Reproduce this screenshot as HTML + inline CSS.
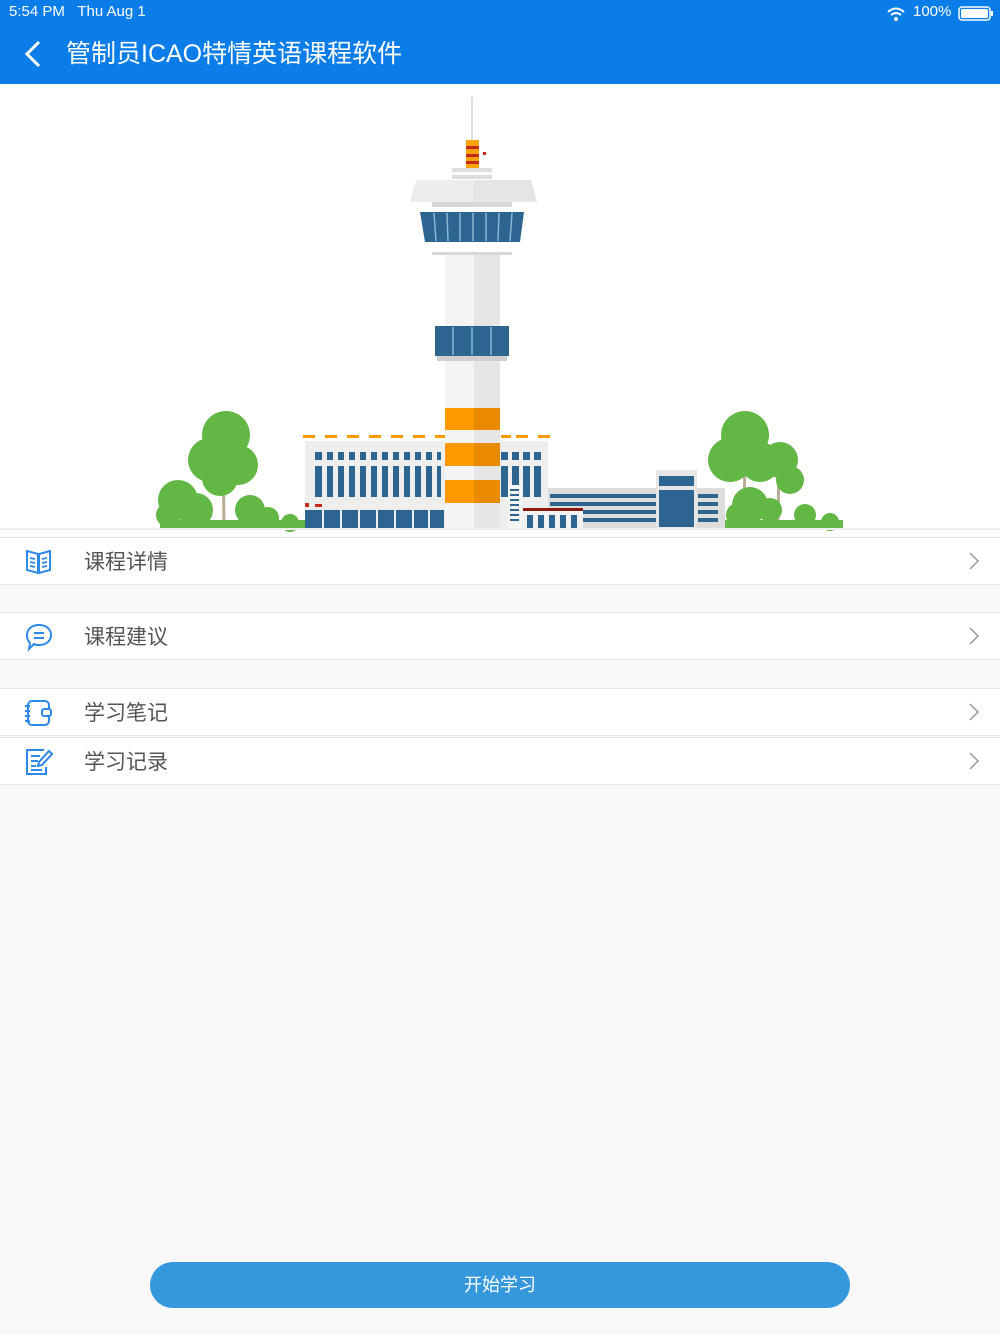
<!DOCTYPE html>
<html><head><meta charset="utf-8"><style>
*{margin:0;padding:0;box-sizing:border-box}
body{width:1000px;height:1334px;background:#f8f8f8;font-family:"Liberation Sans","Noto Sans CJK SC",sans-serif;position:relative;overflow:hidden}
.hdr{position:absolute;left:0;top:0;width:1000px;height:84px;background:#0b7de9;color:#fff}
.st{position:absolute;top:3px;font-size:15px}
.title{position:absolute;left:66px;top:37px;font-size:25px;line-height:34px}
.hero{position:absolute;left:0;top:84px;width:1000px;height:452px;background:#fff}
.row{position:absolute;left:0;width:1000px;height:48px;background:#fff;border-bottom:1px solid #e4e4e4;border-top:1px solid #e4e4e4}
.row .t{position:absolute;left:84px;top:8px;font-size:21px;color:#555}
.row .ch{position:absolute;right:20px;top:13px}
.row .ic{position:absolute;left:24px;top:9px}
.btn{position:absolute;left:150px;top:1262px;width:700px;height:46px;border-radius:23px;background:#3598dc;color:#fff;font-size:18px;text-align:center;line-height:46px}
</style></head><body>
<div class="hdr">
<div class="st" style="left:9px">5:54 PM&nbsp;&nbsp;&nbsp;Thu Aug 1</div>
<div class="st" style="left:913px">100%</div>
<svg style="position:absolute;left:886px;top:6px" width="20" height="16"><path d="M2 6 Q10 -1 18 6" stroke="#fff" stroke-width="2" fill="none"/><path d="M5 9 Q10 5 15 9" stroke="#fff" stroke-width="2" fill="none"/><circle cx="10" cy="13" r="2" fill="#fff"/></svg>
<svg style="position:absolute;left:958px;top:6px" width="38" height="16"><rect x="1" y="1" width="31" height="13" rx="3" stroke="#fff" fill="none" stroke-width="1.5"/><rect x="3" y="3" width="27" height="9" rx="1.5" fill="#fff"/><rect x="33" y="5" width="2" height="5" fill="#fff"/></svg>
<svg style="position:absolute;left:22px;top:40px" width="22" height="30"><path d="M17 2 L5 14 L17 26" stroke="#fff" stroke-width="3" fill="none"/></svg>
<div class="title">管制员ICAO特情英语课程软件</div>
</div>
<div class="hero">
<svg width="1000" height="452" viewBox="0 84 1000 452">
<line x1="472" y1="97" x2="472" y2="142" stroke="#ddd" stroke-width="2"/>
<rect x="466" y="140" width="13" height="28" fill="#f7a400"/>
<rect x="466" y="146" width="13" height="3" fill="#c42b1c"/><rect x="466" y="154" width="13" height="3" fill="#c42b1c"/><rect x="466" y="161" width="13" height="3" fill="#c42b1c"/>
<rect x="483" y="152" width="3" height="3" fill="#c42b1c"/>
<rect x="452" y="168" width="40" height="4" fill="#ddd"/><rect x="452" y="175" width="40" height="4" fill="#ddd"/>
<polygon points="416,180 531,180 537,202 410,202" fill="#ededed"/>
<polygon points="474,180 531,180 537,202 474,202" fill="#e5e5e5"/>
<rect x="432" y="202" width="80" height="5" fill="#d8d8d8"/>
<polygon points="420,212 524,212 520,242 425,242" fill="#2c6590"/>
<g stroke="#8bb6d6" stroke-width="1.5"><line x1="434" y1="213" x2="436" y2="241"/><line x1="447" y1="213" x2="448" y2="241"/><line x1="460" y1="213" x2="460" y2="241"/><line x1="473" y1="213" x2="473" y2="241"/><line x1="486" y1="213" x2="486" y2="241"/><line x1="499" y1="213" x2="498" y2="241"/><line x1="512" y1="213" x2="510" y2="241"/></g>
<rect x="432" y="252" width="80" height="3" fill="#d8d8d8"/>
<rect x="445" y="255" width="55" height="273" fill="#f4f4f4"/>
<rect x="474" y="255" width="26" height="273" fill="#e6e6e6"/>
<rect x="435" y="326" width="74" height="30" fill="#2c6590"/>
<g stroke="#8bb6d6" stroke-width="1.5"><line x1="453" y1="327" x2="453" y2="355"/><line x1="472" y1="327" x2="472" y2="355"/><line x1="491" y1="327" x2="491" y2="355"/></g>
<rect x="437" y="356" width="70" height="5" fill="#cfcfcf"/>
<g fill="#fe9a00"><rect x="445" y="408" width="55" height="22"/><rect x="445" y="443" width="55" height="23"/><rect x="445" y="480" width="55" height="23"/></g>
<g fill="#e88b00"><rect x="474" y="408" width="26" height="22"/><rect x="474" y="443" width="26" height="23"/><rect x="474" y="480" width="26" height="23"/></g>
<g fill="#fe9a00"><rect x="303" y="435" width="12" height="3"/><rect x="325" y="435" width="12" height="3"/><rect x="347" y="435" width="12" height="3"/><rect x="369" y="435" width="12" height="3"/><rect x="391" y="435" width="12" height="3"/><rect x="413" y="435" width="12" height="3"/><rect x="435" y="435" width="10" height="3"/><rect x="501" y="435" width="10" height="3"/><rect x="516" y="435" width="12" height="3"/><rect x="538" y="435" width="12" height="3"/></g>
<rect x="305" y="441" width="140" height="87" fill="#eeeeee"/>
<rect x="500" y="441" width="48" height="87" fill="#eeeeee"/>
<g fill="#2c6590">
<rect x="315" y="452" width="126" height="8"/><rect x="315" y="466" width="126" height="31"/>
<rect x="501" y="452" width="40" height="8"/><rect x="501" y="466" width="40" height="31"/>
<rect x="305" y="510" width="139" height="18"/>
</g>
<g fill="#eeeeee"><rect x="322" y="450" width="5" height="50"/><rect x="333" y="450" width="5" height="50"/><rect x="344" y="450" width="5" height="50"/><rect x="355" y="450" width="5" height="50"/><rect x="366" y="450" width="5" height="50"/><rect x="377" y="450" width="5" height="50"/><rect x="388" y="450" width="5" height="50"/><rect x="399" y="450" width="5" height="50"/><rect x="410" y="450" width="5" height="50"/><rect x="421" y="450" width="5" height="50"/><rect x="432" y="450" width="5" height="50"/><rect x="508" y="450" width="4" height="50"/><rect x="519" y="450" width="4" height="50"/><rect x="530" y="450" width="4" height="50"/><rect x="315" y="460" width="126" height="6"/><rect x="501" y="460" width="40" height="6"/><rect x="322" y="510" width="2" height="18"/><rect x="340" y="510" width="2" height="18"/><rect x="358" y="510" width="2" height="18"/><rect x="376" y="510" width="2" height="18"/><rect x="394" y="510" width="2" height="18"/><rect x="412" y="510" width="2" height="18"/><rect x="428" y="510" width="2" height="18"/></g>
<rect x="305" y="503" width="4" height="4" fill="#c42b1c"/><rect x="315" y="504" width="7" height="3" fill="#c42b1c"/>
<rect x="508" y="485" width="14" height="43" fill="#f6f6f6"/>
<g fill="#2c6590"><rect x="510" y="489" width="9" height="2"/><rect x="510" y="494" width="9" height="2"/><rect x="510" y="499" width="9" height="2"/><rect x="510" y="504" width="9" height="2"/><rect x="510" y="509" width="9" height="2"/><rect x="510" y="514" width="9" height="2"/><rect x="510" y="519" width="9" height="2"/></g>
<rect x="548" y="488" width="177" height="40" fill="#dddddd"/>
<g fill="#2c6590"><rect x="550" y="494" width="106" height="4"/><rect x="550" y="502" width="106" height="4"/><rect x="550" y="510" width="106" height="4"/><rect x="550" y="518" width="106" height="4"/><rect x="698" y="494" width="20" height="4"/><rect x="698" y="502" width="20" height="4"/><rect x="698" y="510" width="20" height="4"/><rect x="698" y="518" width="20" height="4"/></g>
<rect x="656" y="470" width="41" height="58" fill="#e6e6e6"/>
<rect x="659" y="476" width="35" height="10" fill="#2c6590"/>
<rect x="659" y="490" width="35" height="37" fill="#2c6590"/>
<rect x="523" y="508" width="60" height="20" fill="#f2f2f2"/>
<rect x="523" y="508" width="60" height="3" fill="#8b1a10"/>
<g fill="#2c6590"><rect x="527" y="515" width="6" height="13"/><rect x="538" y="515" width="6" height="13"/><rect x="549" y="515" width="6" height="13"/><rect x="560" y="515" width="6" height="13"/><rect x="571" y="515" width="6" height="13"/></g>
<g stroke="#b9ad94" stroke-width="3"><line x1="223" y1="440" x2="224" y2="528"/><line x1="185" y1="495" x2="187" y2="528"/><line x1="255" y1="505" x2="255" y2="528"/><line x1="745" y1="440" x2="744" y2="528"/><line x1="779" y1="460" x2="778" y2="525"/><line x1="750" y1="490" x2="752" y2="528"/></g>
<g fill="#63b744">
<circle cx="226" cy="435" r="24"/><circle cx="210" cy="460" r="22"/><circle cx="238" cy="465" r="20"/><circle cx="220" cy="478" r="18"/>
<circle cx="178" cy="500" r="20"/><circle cx="196" cy="510" r="17"/><circle cx="168" cy="515" r="12"/>
<circle cx="250" cy="510" r="15"/><circle cx="268" cy="518" r="11"/><circle cx="290" cy="523" r="9"/>
<circle cx="745" cy="435" r="24"/><circle cx="730" cy="460" r="22"/><circle cx="760" cy="462" r="20"/><circle cx="780" cy="460" r="18"/><circle cx="790" cy="480" r="14"/>
<circle cx="750" cy="505" r="18"/><circle cx="738" cy="515" r="12"/><circle cx="770" cy="510" r="12"/>
<circle cx="805" cy="515" r="11"/><circle cx="830" cy="522" r="9"/>
</g>
<rect x="160" y="520" width="145" height="8" fill="#63b744"/>
<rect x="725" y="520" width="118" height="8" fill="#63b744"/>
<rect x="0" y="528" width="1000" height="2" fill="#eee"/>
</svg>
</div>

<div class="row" style="top:537px">
<svg class="ic" width="30" height="28"><path d="M3 4 L14 7 L14 26 L3 23 Z M26 4 L15 7 L15 26 L26 23 Z" stroke="#2e88e8" stroke-width="2" fill="none"/><g stroke="#2e88e8" stroke-width="1.8"><line x1="6" y1="11" x2="11" y2="12"/><line x1="6" y1="15" x2="11" y2="16"/><line x1="6" y1="19" x2="11" y2="20"/><line x1="18" y1="12" x2="23" y2="11"/><line x1="18" y1="16" x2="23" y2="15"/><line x1="18" y1="20" x2="23" y2="19"/></g></svg>
<div class="t">课程详情</div>
<svg class="ch" width="12" height="20"><path d="M2 2 L10 10 L2 18" stroke="#999" stroke-width="1.5" fill="none"/></svg></div>
<div class="row" style="top:612px">
<svg class="ic" width="30" height="30"><path d="M15 3 C22 3 27 7 27 13 C27 19 22 23 15 23 C13 23 11 23 10 22 L5 27 L6 21 C4 19 3 16 3 13 C3 7 8 3 15 3 Z" stroke="#2e88e8" stroke-width="2" fill="none"/><line x1="10" y1="11" x2="20" y2="11" stroke="#2e88e8" stroke-width="2"/><line x1="10" y1="16" x2="20" y2="16" stroke="#2e88e8" stroke-width="2"/></svg>
<div class="t">课程建议</div>
<svg class="ch" width="12" height="20"><path d="M2 2 L10 10 L2 18" stroke="#999" stroke-width="1.5" fill="none"/></svg></div>
<div class="row" style="top:688px">
<svg class="ic" width="30" height="30"><rect x="4" y="3" width="21" height="24" rx="4" stroke="#2e88e8" stroke-width="2" fill="none"/><rect x="18" y="11" width="9" height="7" rx="2" stroke="#2e88e8" stroke-width="2" fill="#fff"/><g stroke="#2e88e8" stroke-width="2"><line x1="1" y1="8" x2="6" y2="8"/><line x1="1" y1="13" x2="6" y2="13"/><line x1="1" y1="18" x2="6" y2="18"/><line x1="1" y1="23" x2="6" y2="23"/></g></svg>
<div class="t">学习笔记</div>
<svg class="ch" width="12" height="20"><path d="M2 2 L10 10 L2 18" stroke="#999" stroke-width="1.5" fill="none"/></svg></div>
<div class="row" style="top:737px">
<svg class="ic" width="30" height="30"><path d="M20 3 L3 3 L3 27 L22 27 L22 20" stroke="#2e88e8" stroke-width="2" fill="none"/><g stroke="#2e88e8" stroke-width="2"><line x1="7" y1="9" x2="16" y2="9"/><line x1="7" y1="14" x2="14" y2="14"/><line x1="7" y1="19" x2="12" y2="19"/><line x1="7" y1="23" x2="18" y2="23"/></g><path d="M25 4 L28 7 L18 18 L14 19 L15 15 Z" stroke="#2e88e8" stroke-width="2" fill="none"/></svg>
<div class="t">学习记录</div>
<svg class="ch" width="12" height="20"><path d="M2 2 L10 10 L2 18" stroke="#999" stroke-width="1.5" fill="none"/></svg></div>

<div class="btn">开始学习</div>
</body></html>
